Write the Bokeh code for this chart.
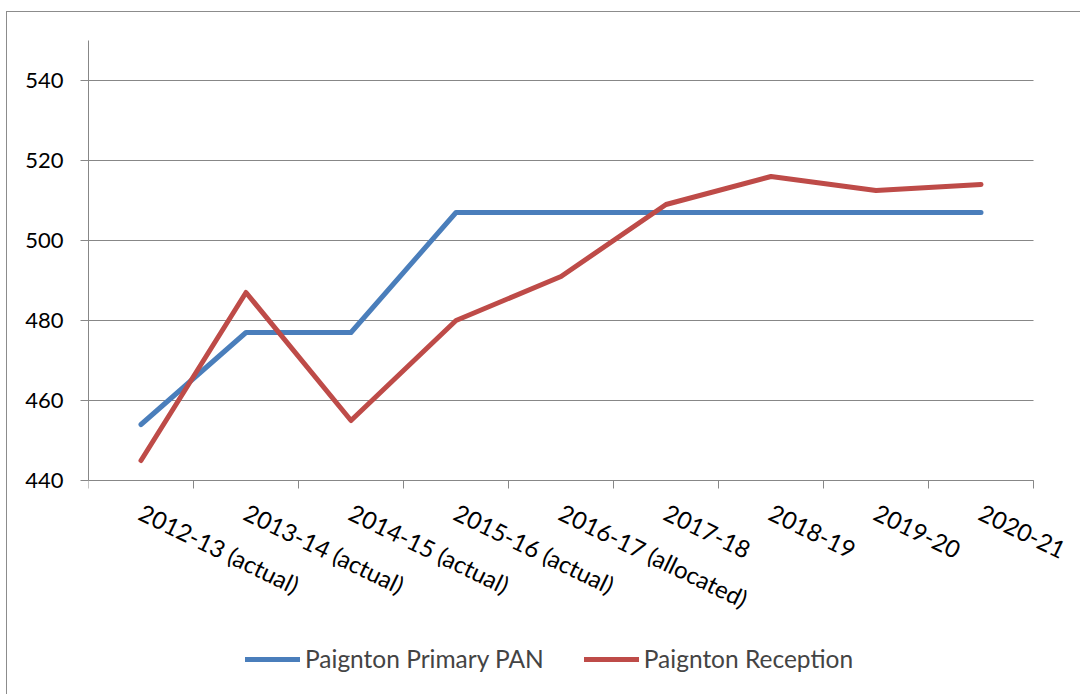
from bokeh.plotting import figure
from bokeh.models import Range1d, FixedTicker, Legend, LegendItem
from bokeh.embed import file_html
from bokeh.resources import INLINE

categories = ["2012-13 (actual)", "2013-14 (actual)", "2014-15 (actual)",
              "2015-16 (actual)", "2016-17 (allocated)", "2017-18",
              "2018-19", "2019-20", "2020-21"]
pan = [454, 477, 477, 507, 507, 507, 507, 507, 507]
reception = [445, 487, 455, 480, 491, 509, 516, 512.5, 514]
y_ticks = [440, 460, 480, 500, 520, 540]

FONT = "Lato"
GRAY = "#878787"
Y_MIN, Y_MAX = 440, 550
N = len(categories)

xs = [i + 0.5 for i in range(N)]

# frame extends to the bottom and right of the canvas so that the fixed-location
# category axis labels are not clipped; axis lines/grid are bounded to the data area
p = figure(width=1074, height=683, output_backend="svg", toolbar_location=None,
           x_range=Range1d(0, N + 0.457), y_range=Range1d(386.25, Y_MAX),
           min_border_left=81, min_border_right=0, min_border_top=28,
           min_border_bottom=0)
p.outline_line_color = None
p.styles = {"border-left": "1px solid #8c8c8c", "border-top": "1px solid #8c8c8c",
            "margin-left": "6px", "margin-top": "11px"}

r1 = p.line(xs, pan, line_color="#4A7EBB", line_width=5, line_cap="round", line_join="round")
r2 = p.line(xs, reception, line_color="#BE4B48", line_width=5, line_cap="round", line_join="round")

# x axis
xa = p.xaxis[0]
xa.fixed_location = Y_MIN
xa.bounds = (0, N)
xa.ticker = FixedTicker(ticks=xs, minor_ticks=list(range(N + 1)))
xa.major_label_overrides = {x: c for x, c in zip(xs, categories)}
xa.major_tick_out = 0
xa.major_tick_in = 0
xa.minor_tick_out = 8
xa.minor_tick_in = 0
xa.minor_tick_line_color = GRAY
xa.axis_line_color = GRAY
xa.major_label_orientation = -0.45
xa.major_label_standoff = 22
xa.major_label_text_font = FONT
xa.major_label_text_font_size = "24px"
xa.major_label_text_color = "black"

ya = p.yaxis[0]
ya.bounds = (Y_MIN, Y_MAX)
ya.ticker = FixedTicker(ticks=y_ticks)
ya.major_tick_out = 8
ya.major_tick_in = 0
ya.minor_tick_out = 0
ya.minor_tick_in = 0
ya.major_tick_line_color = GRAY
ya.axis_line_color = GRAY
ya.major_label_standoff = 17
ya.major_label_text_font = FONT
ya.major_label_text_font_size = "22px"
ya.major_label_text_color = "black"

p.xgrid.grid_line_color = None
yg = p.ygrid[0]
yg.grid_line_color = GRAY
yg.ticker = FixedTicker(ticks=y_ticks)
yg.cross_bounds = (0, N)

legend = Legend(items=[LegendItem(label="Paignton Primary PAN", renderers=[r1]),
                       LegendItem(label="Paignton Reception", renderers=[r2])],
                orientation="horizontal", location=(157, 22),
                label_text_font=FONT, label_text_font_size="24.5px",
                glyph_width=55, glyph_height=24, label_standoff=5, spacing=40,
                padding=0, margin=0, border_line_color=None,
                background_fill_alpha=0)
p.add_layout(legend, "center")

open("out.html", "w").write(file_html(p, INLINE))
